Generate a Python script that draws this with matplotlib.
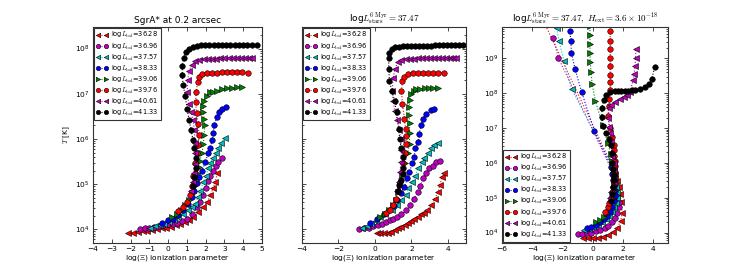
import matplotlib
matplotlib.use("Agg")
import matplotlib.pyplot as plt
import numpy as np
from matplotlib.ticker import FixedLocator, NullFormatter, LogFormatterSciNotation

plt.rcParams['mathtext.fontset'] = 'cm'
plt.rcParams['font.family'] = ['DejaVu Sans']

# ---------------- data (x = log Xi, values = log10 T[K]) ----------------
LBOL = ["36.28", "36.96", "37.57", "38.33", "39.06", "39.76", "40.61", "41.33"]
COLORS = ['r', 'm', 'c', 'b', 'g', 'r', 'm', 'k']
MARKERS = ['<', 'o', '<', 'o', '>', 'o', '<', 'o']

TITLE1 = "SgrA* at 0.2 arcsec"
TITLE2 = r"log$L^{\rm 6\ Myr}_{\rm stars}=37.47$"
TITLE3 = r"log$L^{\rm 6\ Myr}_{\rm stars}=37.47,\ H_{\rm ext}=3.6\times10^{-18}$"

XTICKS1 = [-4, -3, -2, -1, 0, 1, 2, 3, 4, 5]
XTICKS2 = [-4, -2, 0, 2, 4]
XTICKS3 = [-6, -4, -2, 0, 2, 4]
YDEC12 = [4, 5, 6, 7, 8]
YDEC3 = [4, 5, 6, 7, 8, 9]

# ---- panel 1 ----
p1_x_3628 = [-2.13,-1.85,-1.6,-1.35,-1.1,-0.85,-0.6,-0.35,-0.1,0.15,0.4,0.65,0.9,1.12,1.33,1.6,1.87,2.08,2.24,2.4,2.51,2.61]
p1_t_3628 = [3.91,3.93,3.94,3.96,3.97,3.99,4.0,4.02,4.04,4.06,4.09,4.12,4.16,4.21,4.27,4.38,4.49,4.6,4.75,4.91,5.05,5.24]
p1_x_3696 = [-1.5,-1.25,-1.0,-0.75,-0.5,-0.25,0.0,0.25,0.5,0.75,1.01,1.28,1.55,1.71,1.87,2.0,2.1,2.24,2.4,2.56,2.67,2.88]
p1_t_3696 = [4.0,4.02,4.03,4.05,4.07,4.09,4.11,4.13,4.15,4.18,4.24,4.35,4.49,4.6,4.75,4.91,5.08,5.19,5.3,5.41,5.48,5.59]
p1_x_3757 = [-0.96,-0.7,-0.45,-0.2,0.05,0.3,0.55,0.8,1.05,1.25,1.44,1.6,1.71,1.87,2.03,2.13,2.24,2.4,2.55,2.67,2.83,3.04]
p1_t_3757 = [4.04,4.07,4.1,4.13,4.17,4.21,4.27,4.34,4.42,4.5,4.57,4.71,4.86,5.04,5.19,5.35,5.46,5.59,5.7,5.81,5.92,6.03]
p1_x_3833 = [-0.32,0.0,0.27,0.53,0.8,1.07,1.28,1.39,1.55,1.65,1.81,1.97,2.13,2.24,2.35,2.40,2.45,2.6,2.72,2.88,3.1]
p1_t_3833 = [4.15,4.20,4.24,4.31,4.42,4.57,4.71,4.86,5.02,5.15,5.30,5.48,5.68,5.81,5.97,6.14,6.3,6.48,6.59,6.67,6.71]
p1_x_3906 = [0.2,0.45,0.7,0.92,1.1,1.25,1.38,1.48,1.56,1.62,1.7,1.81,1.87,1.92,1.95,1.92,1.88,1.87,1.92,2.08,2.24,2.4,2.61,2.88,3.15,3.41,3.68,3.95]
p1_t_3906 = [4.27,4.33,4.42,4.53,4.66,4.8,4.95,5.1,5.24,5.37,5.52,5.7,5.88,6.08,6.3,6.45,6.6,6.72,6.85,6.95,7.03,7.05,7.07,7.1,7.12,7.12,7.14,7.14]
p1_x_3976 = [0.53,0.8,1.01,1.17,1.28,1.33,1.44,1.55,1.6,1.65,1.6,1.52,1.46,1.5,1.57,1.63,1.81,2.08,2.35,2.61,2.88,3.15,3.41,3.68,3.95,4.27]
p1_t_3976 = [4.4,4.49,4.6,4.75,4.97,5.19,5.46,5.68,5.86,6.08,6.33,6.57,6.81,7.05,7.25,7.38,7.44,7.46,7.47,7.47,7.48,7.48,7.48,7.48,7.48,7.47]
p1_x_4061 = [1.2,1.3,1.38,1.43,1.45,1.42,1.40,1.33,1.23,1.1,1.02,1.04,1.12,1.25,1.45,1.67,1.9,2.12,2.34,2.56,2.78,3.0,3.22,3.45,3.67,3.89,4.11,4.3,4.48]
p1_t_4061 = [4.85,5.05,5.25,5.45,5.68,5.92,6.19,6.41,6.59,6.78,7.03,7.31,7.5,7.64,7.72,7.75,7.76,7.77,7.78,7.78,7.79,7.79,7.79,7.8,7.8,7.8,7.8,7.8,7.8]
p1_x_4133 = [1.3,1.4,1.49,1.5,1.4,1.33,1.22,1.12,1.01,0.91,0.8,0.75,0.76,0.82,0.93,1.1,1.3,1.52,1.75,1.97,2.2,2.42,2.65,2.87,3.1,3.32,3.55,3.77,4.0,4.22,4.45,4.75]
p1_t_4133 = [4.95,5.15,5.35,5.59,5.8,5.97,6.2,6.42,6.67,6.96,7.2,7.42,7.62,7.8,7.92,8.0,8.04,8.06,8.07,8.07,8.08,8.08,8.08,8.08,8.08,8.08,8.09,8.09,8.09,8.09,8.09,8.09]

# ---- panel 2 ----
p2_x_3628 = [0.1,0.3,0.5,0.7,0.9,1.08,1.28,1.46,1.65,1.84,2.0,2.16,2.35,2.54,2.7,2.86,3.08,3.3,3.46,3.57,3.68,3.78]
p2_t_3628 = [3.92,3.91,3.91,3.92,3.95,3.99,4.03,4.06,4.1,4.14,4.19,4.24,4.28,4.33,4.37,4.42,4.53,4.68,4.82,4.99,5.15,5.24]
p2_x_3696 = [-0.86,-0.6,-0.35,-0.1,0.15,0.4,0.6,0.81,1.0,1.19,1.46,1.73,1.95,2.16,2.38,2.49,2.65,2.81,2.97,3.19,3.35,3.57]
p2_t_3696 = [4.0,4.02,4.04,4.07,4.1,4.13,4.16,4.2,4.23,4.27,4.33,4.42,4.53,4.68,4.82,4.97,5.13,5.24,5.35,5.41,5.48,5.52]
p2_x_3757 = [-0.7,-0.45,-0.2,0.05,0.3,0.54,0.92,1.19,1.46,1.68,1.84,2.05,2.22,2.38,2.59,2.7,2.92,3.08,3.24,3.46]
p2_t_3757 = [4.04,4.08,4.13,4.19,4.27,4.35,4.44,4.53,4.64,4.77,4.91,5.04,5.19,5.35,5.48,5.59,5.68,5.79,5.86,5.92]
p2_x_3833 = [-0.27,0.11,0.49,0.76,1.03,1.19,1.41,1.62,1.78,1.89,2.05,2.16,2.22,2.38,2.43,2.54,2.65,2.81,3.08,3.24]
p2_t_3833 = [4.15,4.22,4.35,4.42,4.51,4.64,4.8,4.93,5.13,5.26,5.46,5.61,5.79,5.94,6.12,6.3,6.45,6.56,6.65,6.67]
p2_x_3906 = [0.3,0.55,0.8,1.0,1.15,1.28,1.4,1.5,1.63,1.79,1.9,1.9,1.9,1.87,1.89,1.91,2.0,2.12,2.27,2.5,2.73,2.96,3.2,3.46]
p2_t_3906 = [4.27,4.33,4.42,4.53,4.66,4.82,4.98,5.2,5.46,5.68,5.9,6.14,6.36,6.53,6.7,6.87,7.0,7.07,7.1,7.11,7.12,7.12,7.12,7.13]
p2_x_3976 = [0.6,0.82,1.0,1.15,1.27,1.37,1.47,1.57,1.63,1.68,1.73,1.68,1.62,1.51,1.46,1.51,1.62,1.84,2.1,2.37,2.64,2.9,3.17,3.44,3.78]
p2_t_3976 = [4.36,4.43,4.53,4.67,4.85,5.05,5.26,5.46,5.68,5.9,6.06,6.23,6.45,6.78,7.07,7.29,7.38,7.44,7.46,7.47,7.47,7.47,7.47,7.47,7.47]
p2_x_4061 = [1.2,1.3,1.38,1.43,1.45,1.41,1.35,1.24,1.08,1.0,0.95,1.0,1.1,1.26,1.46,1.68,1.9,2.12,2.34,2.56,2.78,3.0,3.22,3.44,3.66,3.88,4.1,4.3,4.43]
p2_t_4061 = [4.85,5.05,5.27,5.5,5.75,6.0,6.2,6.41,6.63,6.85,7.07,7.34,7.55,7.7,7.75,7.77,7.78,7.78,7.79,7.79,7.79,7.8,7.8,7.8,7.8,7.8,7.8,7.8,7.8]
p2_x_4133 = [1.25,1.35,1.45,1.53,1.57,1.52,1.44,1.36,1.3,1.19,1.08,0.92,0.8,0.76,0.76,0.8,0.92,1.12,1.33,1.55,1.77,1.99,2.21,2.43,2.65,2.87,3.09,3.31,3.53,3.75,3.97,4.19,4.41,4.63,4.86]
p2_t_4133 = [4.85,4.98,5.1,5.22,5.35,5.6,5.8,6.01,6.23,6.59,6.85,7.07,7.29,7.55,7.8,7.91,7.99,8.03,8.04,8.05,8.05,8.05,8.06,8.06,8.06,8.06,8.06,8.07,8.07,8.07,8.07,8.07,8.07,8.07,8.07]

# ---- panel 3 ----
p3_x_3628 = [-0.66,-0.32,0.01,0.35,0.68,1.02,1.36,1.64,1.87,1.96,1.91,1.82,1.72,1.62,1.52,1.45,-3.5]
p3_t_3628 = [3.85,3.85,3.85,3.85,3.88,3.93,4.01,4.13,4.34,4.57,4.88,5.1,5.3,5.48,5.64,5.78,10.3]
p3_x_3696 = [-0.99,-0.7,-0.4,-0.1,0.2,0.5,0.8,1.05,1.3,1.5,1.65,1.72,1.72,1.65,1.58,1.5,1.42,1.35,-2.27,-2.6]
p3_t_3696 = [3.95,3.96,3.98,4.0,4.03,4.07,4.13,4.2,4.3,4.42,4.56,4.72,4.88,5.05,5.2,5.37,5.55,5.72,9.02,9.6]
p3_x_3757 = [-0.55,-0.25,0.05,0.35,0.65,0.9,1.12,1.3,1.45,1.55,1.6,1.6,1.55,1.48,1.42,1.36,1.3,-1.38,-1.89,-2.23,-2.38]
p3_t_3757 = [4.06,4.1,4.15,4.21,4.29,4.38,4.48,4.6,4.72,4.86,5.0,5.15,5.3,5.45,5.6,5.75,5.9,8.12,8.93,9.51,9.88]
p3_x_3833 = [-0.37,-0.1,0.2,0.48,0.75,0.98,1.17,1.32,1.42,1.48,1.5,1.45,1.38,1.3,1.24,0.12,-0.72,-1.17,-1.4,-1.44,-1.49]
p3_t_3833 = [4.13,4.17,4.22,4.29,4.38,4.48,4.6,4.74,4.9,5.05,5.2,5.35,5.5,5.68,5.88,6.92,8.03,8.71,9.17,9.51,9.78]
p3_x_3906 = [0.25,0.5,0.75,0.95,1.12,1.25,1.35,1.42,1.45,1.45,1.42,1.36,1.28,1.2,1.02,0.68,0.19,-0.03,-0.1,-0.15,-0.17,-0.17,-0.17,-0.17]
p3_t_3906 = [4.3,4.36,4.45,4.56,4.7,4.85,5.0,5.18,5.35,5.52,5.7,5.88,6.05,6.25,6.56,7.08,7.78,8.27,8.61,8.9,9.17,9.42,9.66,9.93]
p3_x_3976 = [0.85,1.0,1.12,1.22,1.3,1.38,1.44,1.48,1.5,1.5,1.47,1.44,1.42,1.42,1.3,1.17,1.02,1.06,1.09,1.17,1.17,1.17,1.17,1.17,1.17,1.17,1.17]
p3_t_3976 = [4.6,4.72,4.85,5.0,5.15,5.3,5.45,5.6,5.75,5.9,6.05,6.2,6.36,6.51,6.75,7.0,7.34,7.62,7.83,8.09,8.32,8.53,8.78,9.02,9.27,9.51,9.78]
p3_x_4061 = [1.15,1.25,1.33,1.4,1.45,1.45,1.4,1.32,1.24,1.15,1.1,1.05,1.09,1.2,1.46,1.8,2.09,2.29,2.47,2.7,2.76,2.81,2.85,2.87]
p3_t_4061 = [5.0,5.15,5.3,5.45,5.6,5.8,6.0,6.2,6.61,6.85,7.03,7.3,7.59,7.65,7.76,7.83,7.88,7.95,8.04,8.37,8.56,8.78,9.0,9.26]
p3_x_4133 = [1.2,1.3,1.38,1.42,1.42,1.36,1.29,1.29,1.24,1.1,0.91,0.7,0.62,0.62,0.75,0.91,1.13,1.46,1.69,1.91,2.14,2.36,2.59,2.81,3.14,3.48,3.75,3.93,4.11]
p3_t_4133 = [4.9,5.1,5.3,5.5,5.64,5.82,6.0,6.27,6.51,6.7,6.86,7.07,7.32,7.59,7.81,7.95,8.03,8.06,8.07,8.07,8.07,8.07,8.08,8.09,8.12,8.17,8.27,8.42,8.74]

PANEL1 = [(p1_x_3628, p1_t_3628), (p1_x_3696, p1_t_3696), (p1_x_3757, p1_t_3757), (p1_x_3833, p1_t_3833),
          (p1_x_3906, p1_t_3906), (p1_x_3976, p1_t_3976), (p1_x_4061, p1_t_4061), (p1_x_4133, p1_t_4133)]
PANEL2 = [(p2_x_3628, p2_t_3628), (p2_x_3696, p2_t_3696), (p2_x_3757, p2_t_3757), (p2_x_3833, p2_t_3833),
          (p2_x_3906, p2_t_3906), (p2_x_3976, p2_t_3976), (p2_x_4061, p2_t_4061), (p2_x_4133, p2_t_4133)]
PANEL3 = [(p3_x_3628, p3_t_3628), (p3_x_3696, p3_t_3696), (p3_x_3757, p3_t_3757), (p3_x_3833, p3_t_3833),
          (p3_x_3906, p3_t_3906), (p3_x_3976, p3_t_3976), (p3_x_4061, p3_t_4061), (p3_x_4133, p3_t_4133)]

# ---------------- figure ----------------
W, H = 743, 270
fig = plt.figure(figsize=(W / 100, H / 100), dpi=100, facecolor='white')


def ax_at(l, r, t, b):
    return fig.add_axes([l / W, 1 - b / H, (r - l) / W, (b - t) / H])


ax1 = ax_at(93, 262, 27, 243)
ax2 = ax_at(302, 466, 27, 243)
ax3 = ax_at(502, 668, 27, 243)

FS = 5.4
for ax, data, xlim, ylim, xticks, ydec, title, loc in [
        (ax1, PANEL1, (-4, 5), (5e3, 3e8), XTICKS1, YDEC12, TITLE1, 'upper left'),
        (ax2, PANEL2, (-4, 5), (5e3, 3e8), XTICKS2, YDEC12, TITLE2, 'upper left'),
        (ax3, PANEL3, (-6, 5), (5e3, 8e9), XTICKS3, YDEC3, TITLE3, 'lower left')]:
    for (xs, ts), lab, c, m in zip(data, LBOL, COLORS, MARKERS):
        ax.plot(xs, 10 ** np.array(ts), ls=':', lw=0.8, color=c, marker=m, ms=4.0,
                mec='k', mew=0.4, label=r"log$L_{\rm bol}$=" + lab)
    ax.set_yscale('log')
    ax.set_xlim(*xlim)
    ax.set_ylim(*ylim)
    ax.xaxis.set_major_locator(FixedLocator(xticks))
    ax.yaxis.set_major_locator(FixedLocator([10.0 ** d for d in ydec]))
    ax.yaxis.set_major_formatter(LogFormatterSciNotation())
    minors = [s * 10.0 ** d for d in range(3, 11) for s in range(2, 10)
              if ylim[0] <= s * 10.0 ** d <= ylim[1]]
    ax.yaxis.set_minor_locator(FixedLocator(minors))
    ax.yaxis.set_minor_formatter(NullFormatter())
    ax.tick_params(which='both', direction='in', top=True, right=True, labelsize=FS, width=0.5, pad=2.5)
    ax.tick_params(which='major', length=3)
    ax.tick_params(which='minor', length=1.5)
    for s in ax.spines.values():
        s.set_linewidth(0.8)
        s.set_color('#333333')
    ax.set_xlabel(r"log($\Xi$) ionization parameter", fontsize=FS, labelpad=0.5)
    ax.set_title(title, fontsize=6.5, pad=3)
    leg = ax.legend(loc=loc, fontsize=4.8, numpoints=2, handlelength=1.8, labelspacing=0.14,
                    borderpad=0.35, handletextpad=0.4, borderaxespad=0.15, fancybox=False,
                    framealpha=1, markerscale=0.8)
    leg.get_frame().set_edgecolor('#333333')
    leg.get_frame().set_linewidth(0.8)

ax2.tick_params(axis='y', which='both', labelleft=False)
ax1.set_ylabel(r"$T$ [K]", fontsize=FS, labelpad=2)

fig.savefig("out.png", dpi=100, facecolor='white')
